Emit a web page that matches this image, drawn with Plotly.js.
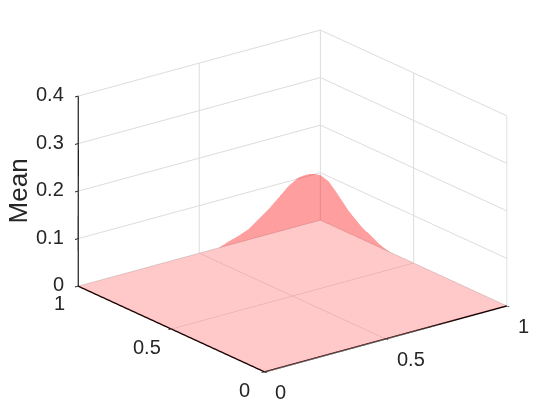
<!DOCTYPE html>
<html><head><meta charset="utf-8">
<script src="https://cdn.plot.ly/plotly-3.0.1.min.js"></script>
<style>html,body{margin:0;padding:0;background:#fff}#c{width:560px;height:420px}</style>
</head><body><div id="c"></div>
<script>
const planeX = [0, 1];
const planeY = [0, 1];
const planeZ = [[0, 0], [0, 0]];
const backLeftX = [0.580, 0.621, 0.662, 0.704, 0.745, 0.786, 0.828, 0.869, 0.910, 0.938, 0.966, 1];
const backLeftZ = [0, 0.0078, 0.0139, 0.0223, 0.0375, 0.0528, 0.0716, 0.0903, 0.1023, 0.104, 0.1023, 0.095];
const backRightY = [1, 0.956, 0.92, 0.884, 0.849, 0.813, 0.777, 0.742, 0.706, 0.670, 0.626];
const backRightZ = [0.095, 0.0895, 0.0762, 0.0617, 0.047, 0.036, 0.025, 0.0187, 0.0112, 0.0044, 0];
const ticksXY = [0, 0.5, 1];
const ticksZ = [0, 0.1, 0.2, 0.3, 0.4];
const flat = [[0, '#ff0000'], [1, '#ff0000']];
const light = {ambient: 1, diffuse: 0, specular: 0, roughness: 1, fresnel: 0};
const common = {type: 'surface', colorscale: flat, showscale: false, lighting: light, hoverinfo: 'skip', cmin: 0, cmax: 1};
const zeros = a => a.map(() => 0);
const ones = a => a.map(() => 1);
const traces = [
  {...common, x: planeX, y: planeY, z: planeZ, surfacecolor: planeZ, opacity: 0.21},
  {...common, x: [backLeftX, backLeftX], y: [ones(backLeftX), ones(backLeftX)], z: [zeros(backLeftX), backLeftZ],
   surfacecolor: [zeros(backLeftX), zeros(backLeftX)], opacity: 0.38},
  {...common, x: [ones(backRightY), ones(backRightY)], y: [backRightY, backRightY], z: [zeros(backRightY), backRightZ],
   surfacecolor: [zeros(backRightY), zeros(backRightY)], opacity: 0.38}
];
const axis = (range, ticks) => ({
  range, tickmode: 'array', tickvals: ticks, showticklabels: false,
  showgrid: true, gridcolor: '#dcdcdc', gridwidth: 2, showbackground: false, zeroline: false,
  showline: true, linecolor: '#000000', linewidth: 3, ticks: 'outside', ticklen: 4, tickcolor: '#262626', tickwidth: 2,
  showspikes: false, title: {text: ''}
});
const font = {family: 'Liberation Sans, Arial', size: 20, color: '#262626'};
const label = (x, y, z, text, xshift, yshift, xanchor) => ({x, y, z, text: String(text), showarrow: false, font, xshift, yshift, xanchor: xanchor || 'center', yanchor: 'middle'});
const annotations = [
  ...ticksXY.map((t, i) => label(t, 0, 0, t, [16, 25, 17][i], [-20, -20, -20][i])),
  ...ticksXY.map((t, i) => label(0, t, 0, t, [-20, -25, -19][i], [-18, -18, -17][i])),
  ...ticksZ.map(t => label(0, 1, t, t, -12, 2, 'right')),
  {x: 0, y: 1, z: 0.2, text: 'Mean', showarrow: false, textangle: -90, font: {...font, size: 26}, xshift: -60, yshift: 0}
];
const layout = {
  width: 560, height: 420, margin: {l: 0, r: 0, t: 0, b: 0}, paper_bgcolor: '#fff', showlegend: false,
  scene: {
    domain: {x: [0.045, 1], y: [0.043, 1]},
    xaxis: axis([0, 1], ticksXY), yaxis: axis([0, 1], ticksXY), zaxis: axis([0, 0.4], ticksZ),
    aspectmode: 'manual', aspectratio: {x: 1.521, y: 1.521, z: 1.011},
    camera: {projection: {type: 'orthographic'}, eye: {x: -0.975, y: -1.267, z: 0.605}, up: {x: 0, y: 0, z: 1}, center: {x: 0, y: 0, z: 0}},
    bgcolor: '#fff', annotations
  }
};
Plotly.newPlot('c', traces, layout, {displayModeBar: false});
</script></body></html>
